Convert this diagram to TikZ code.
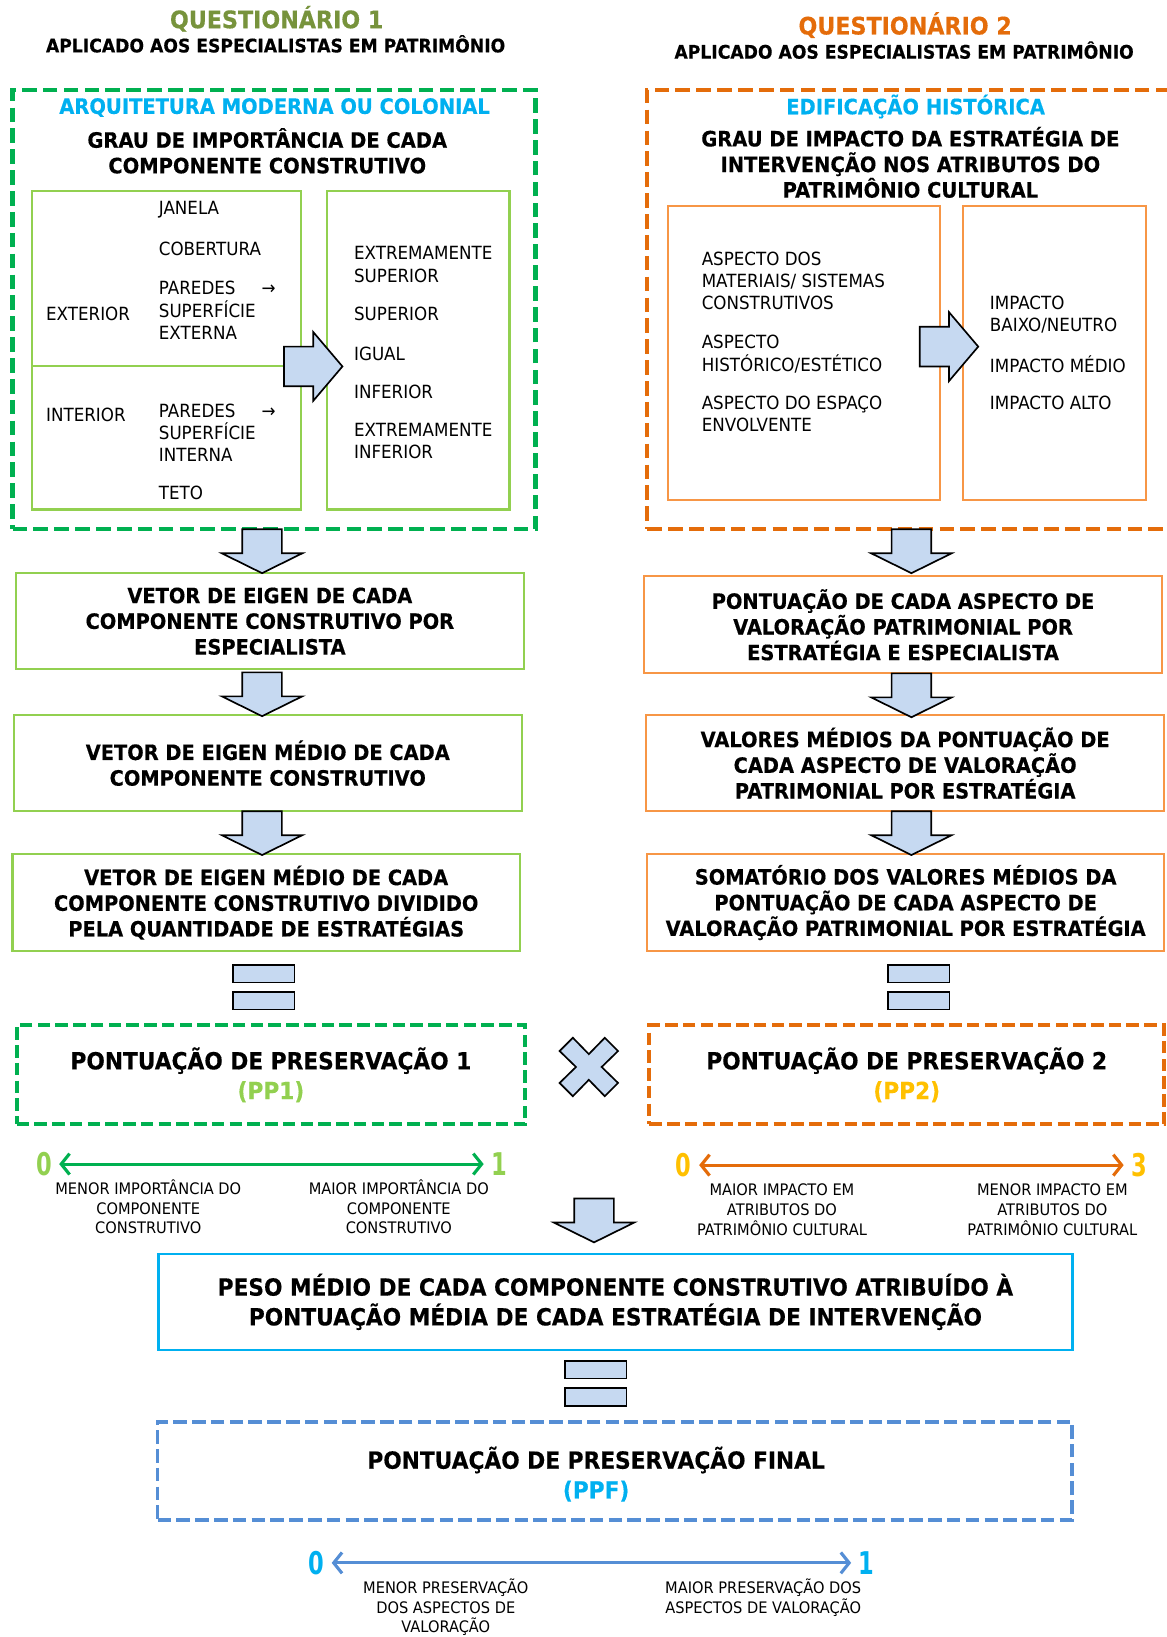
\documentclass[tikz,border=0pt]{standalone}
\usepackage{fontspec}
\setmainfont{DejaVu Sans}[FakeStretch=0.92, BoldFeatures={FakeBold=0.4}]
\newfontfamily\numfont{DejaVu Sans Condensed}[FakeStretch=0.8]
\usetikzlibrary{arrows.meta,calc}

\definecolor{olive}{HTML}{77933C}
\definecolor{orgdark}{HTML}{E46C0A}
\definecolor{cyanhead}{HTML}{00B0F0}
\definecolor{greendash}{HTML}{00B050}
\definecolor{lightgreen}{HTML}{92D050}
\definecolor{orgline}{HTML}{F79646}
\definecolor{gold}{HTML}{FFC000}
\definecolor{bluedash}{HTML}{558ED5}
\definecolor{arrowfill}{HTML}{C6D9F1}

\tikzset{
  qtitle/.style={font=\bfseries\fontsize{23.1}{25}\selectfont, inner sep=0pt},
  qsub/.style={font=\bfseries\fontsize{17.9}{20}\selectfont, inner sep=0pt},
  headtext/.style={font=\bfseries\fontsize{20.3}{24.5}\selectfont, align=center, inner sep=0pt},
  bodytext/.style={font=\bfseries\fontsize{20.2}{24.6}\selectfont, align=center, inner sep=0pt},
  bigtext/.style={font=\bfseries\fontsize{22.6}{28.5}\selectfont, align=center, inner sep=0pt},
  itemtext/.style={font=\fontsize{17.4}{21.5}\selectfont, align=left, anchor=west, inner sep=0pt},
  scalelabel/.style={font=\fontsize{15.2}{19}\selectfont, align=center, inner sep=0pt},
  scalenum/.style={font=\numfont\bfseries\fontsize{30}{30}\selectfont, inner sep=0pt},
  outerdash/.style={draw, line width=4pt, dash pattern=on 14pt off 6pt, inner sep=0pt},
  resultdash/.style={draw, line width=4pt, dash pattern=on 12pt off 5pt, inner sep=0pt},
  greenbox/.style={draw=lightgreen, line width=2pt, inner sep=0pt},
  orangebox/.style={draw=orgline, line width=2pt, inner sep=0pt},
  bluebox/.style={draw=cyanhead, line width=2.5pt, inner sep=0pt},
  blockarrow/.style={fill=arrowfill, draw=black, line width=1.6pt, line join=miter},
  scalearrow/.style={line width=3pt,
    {Straight Barb[length=8pt,width=20pt]}-{Straight Barb[length=8pt,width=20pt]},
    shorten <=7pt, shorten >=7pt},
  downarrow/.pic={\path[blockarrow] (-19,0) -- (19,0) -- (19,23) -- (38.5,23)
    -- (0,42) -- (-38.5,23) -- (-19,23) -- cycle;},
  rightarrow/.pic={\path[blockarrow] (0,-19) -- (28,-19) -- (28,-33) -- (56,0)
    -- (28,33) -- (28,19) -- (0,19) -- cycle;},
  equalsign/.pic={\path[blockarrow] (-29.5,-21.5) rectangle (29.5,-4.5);
    \path[blockarrow] (-29.5,4.5) rectangle (29.5,21.5);},
  timessign/.pic={\path[blockarrow] (0,-12.3) -- (15.3,-28) -- (28,-15.3) -- (12.3,0)
    -- (28,15.3) -- (15.3,28) -- (0,12.3) -- (-15.3,28) -- (-28,15.3) -- (-12.3,0)
    -- (-28,-15.3) -- (-15.3,-28) -- cycle;}
}

\begin{document}
\begin{tikzpicture}[x=1pt,y=-1pt]
\useasboundingbox (0,0) rectangle (1117,1568);

% ---------- Questionnaire headings ----------
\node[qtitle, text=olive] (q1title) at (265,18) {QUESTIONÁRIO 1};
\node[qsub] (q1sub) at (264,42) {APLICADO AOS ESPECIALISTAS EM PATRIMÔNIO};
\node[qtitle, text=orgdark] (q2title) at (867,24) {QUESTIONÁRIO 2};
\node[qsub] (q2sub) at (866,48) {APLICADO AOS ESPECIALISTAS EM PATRIMÔNIO};

% ---------- Questionnaire 1 frame ----------
\node[outerdash, draw=greendash, minimum width=501, minimum height=421] (q1box) at (262.5,296.5) {};
\node[headtext, text=cyanhead] (q1type) at (263,103) {ARQUITETURA MODERNA OU COLONIAL};
\node[headtext] (q1q) at (256,144.5) {GRAU DE IMPORTÂNCIA DE CADA\\COMPONENTE CONSTRUTIVO};

\node[greenbox, minimum width=257, minimum height=305] (comp) at (159.5,335.5) {};
\node[greenbox, minimum width=175, minimum height=305] (scale1) at (400.5,335.5) {};
\draw[lightgreen, line width=2pt] (comp.west |- 0,351) -- (comp.east |- 0,351);

\node[itemtext] (ext) at (44,301) {EXTERIOR};
\node[itemtext] (int) at (44,397) {INTERIOR};
\node[itemtext] (jan) at (152,201) {JANELA};
\node[itemtext] (cob) at (152,238) {COBERTURA};
\node[itemtext] (pext) at (152,297.5) {PAREDES\hspace{25pt}→\\SUPERFÍCIE\\EXTERNA};
\node[itemtext] (pint) at (152,414.5) {PAREDES\hspace{25pt}→\\SUPERFÍCIE\\INTERNA};
\node[itemtext] (teto) at (152,472) {TETO};

\node[itemtext] (esup) at (339,253.5) {EXTREMAMENTE\\SUPERIOR};
\node[itemtext] (sup) at (339,301) {SUPERIOR};
\node[itemtext] (igu) at (339,339) {IGUAL};
\node[itemtext] (inf) at (339,375) {INFERIOR};
\node[itemtext] (einf) at (339,422.5) {EXTREMAMENTE\\INFERIOR};

\pic at (272,351) {rightarrow};

% ---------- Questionnaire 2 frame ----------
\node[outerdash, draw=orgdark, minimum width=500, minimum height=421] (q2box) at (870,296.5) {};
\node[headtext, text=cyanhead] (q2type) at (877,102) {EDIFICAÇÃO HISTÓRICA};
\node[headtext] (q2q) at (872,155.5) {GRAU DE IMPACTO DA ESTRATÉGIA DE\\INTERVENÇÃO NOS ATRIBUTOS DO\\PATRIMÔNIO CULTURAL};

\node[orangebox, minimum width=260, minimum height=282] (asp) at (770,338) {};
\node[orangebox, minimum width=176, minimum height=282] (scale2) at (1010,338) {};

\node[itemtext] (a1) at (672,269) {ASPECTO DOS\\MATERIAIS/ SISTEMAS\\CONSTRUTIVOS};
\node[itemtext] (a2) at (672,339) {ASPECTO\\HISTÓRICO/ESTÉTICO};
\node[itemtext] (a3) at (672,396.5) {ASPECTO DO ESPAÇO\\ENVOLVENTE};
\node[itemtext] (i1) at (948,301.5) {IMPACTO\\BAIXO/NEUTRO};
\node[itemtext] (i2) at (948,349) {IMPACTO MÉDIO};
\node[itemtext] (i3) at (948,386) {IMPACTO ALTO};

\pic at (881,332) {rightarrow};

% ---------- Left processing chain ----------
\node[greenbox, minimum width=487, minimum height=92, bodytext] (l1) at (258.5,595)
  {VETOR DE EIGEN DE CADA\\COMPONENTE CONSTRUTIVO POR\\ESPECIALISTA};
\node[greenbox, minimum width=487, minimum height=92, bodytext] (l2) at (256.5,731)
  {VETOR DE EIGEN MÉDIO DE CADA\\COMPONENTE CONSTRUTIVO};
\node[greenbox, minimum width=486, minimum height=93, bodytext] (l3) at (255,864.5)
  {VETOR DE EIGEN MÉDIO DE CADA\\COMPONENTE CONSTRUTIVO DIVIDIDO\\PELA QUANTIDADE DE ESTRATÉGIAS};

\pic at (251,507) {downarrow};
\pic at (251,644) {downarrow};
\pic at (251,777) {downarrow};

% ---------- Right processing chain ----------
\node[orangebox, minimum width=496, minimum height=93, bodytext] (r1) at (865,598.5)
  {PONTUAÇÃO DE CADA ASPECTO DE\\VALORAÇÃO PATRIMONIAL POR\\ESTRATÉGIA E ESPECIALISTA};
\node[orangebox, minimum width=496, minimum height=92, bodytext] (r2) at (867,731)
  {VALORES MÉDIOS DA PONTUAÇÃO DE\\CADA ASPECTO DE VALORAÇÃO\\PATRIMONIAL POR ESTRATÉGIA};
\node[orangebox, minimum width=495, minimum height=93, bodytext] (r3) at (867.5,864.5)
  {SOMATÓRIO DOS VALORES MÉDIOS DA\\PONTUAÇÃO DE CADA ASPECTO DE\\VALORAÇÃO PATRIMONIAL POR ESTRATÉGIA};

\pic at (873,507) {downarrow};
\pic at (873,645) {downarrow};
\pic at (873,777) {downarrow};

% ---------- Equal signs ----------
\pic at (252.5,945.5) {equalsign};
\pic at (880,945.5) {equalsign};

% ---------- Preservation scores ----------
\node[resultdash, draw=greendash, minimum width=487, minimum height=95, bigtext] (pp1) at (259.5,1029.5)
  {PONTUAÇÃO DE PRESERVAÇÃO 1\\\textcolor{lightgreen}{(PP1)}};
\node[resultdash, draw=orgdark, minimum width=493, minimum height=95, bigtext] (pp2) at (868.5,1029.5)
  {PONTUAÇÃO DE PRESERVAÇÃO 2\\\textcolor{gold}{(PP2)}};
\pic at (564,1022) {timessign};

% ---------- Scale of PP1 ----------
\node[scalenum, text=lightgreen] (s1lo) at (42,1115) {0};
\node[scalenum, text=lightgreen] (s1hi) at (478,1115) {1};
\draw[scalearrow, greendash] (s1lo.east) -- (s1hi.west);
\node[scalelabel] (s1lotxt) at (142,1156) {MENOR IMPORTÂNCIA DO\\COMPONENTE\\CONSTRUTIVO};
\node[scalelabel] (s1hitxt) at (382,1156) {MAIOR IMPORTÂNCIA DO\\COMPONENTE\\CONSTRUTIVO};

% ---------- Scale of PP2 ----------
\node[scalenum, text=gold] (s2lo) at (655,1116) {0};
\node[scalenum, text=gold] (s2hi) at (1091,1116) {3};
\draw[scalearrow, orgdark] (s2lo.east) -- (s2hi.west);
\node[scalelabel] (s2lotxt) at (749,1158.5) {MAIOR IMPACTO EM\\ATRIBUTOS DO\\PATRIMÔNIO CULTURAL};
\node[scalelabel] (s2hitxt) at (1008,1158.5) {MENOR IMPACTO EM\\ATRIBUTOS DO\\PATRIMÔNIO CULTURAL};

% ---------- Combined weight ----------
\pic at (569,1148) {downarrow};
\node[bluebox, minimum width=875, minimum height=92, bigtext] (peso) at (589.5,1247)
  {PESO MÉDIO DE CADA COMPONENTE CONSTRUTIVO ATRIBUÍDO À\\PONTUAÇÃO MÉDIA DE CADA ESTRATÉGIA DE INTERVENÇÃO};
\pic at (570.5,1325) {equalsign};

% ---------- Final score ----------
\node[draw=bluedash, line width=3.5pt, dash pattern=on 13pt off 5pt, minimum width=876, minimum height=94] (ppf) at (589,1409) {};
\node[bigtext] (ppftxt) at (571,1412) {PONTUAÇÃO DE PRESERVAÇÃO FINAL\\\textcolor{cyanhead}{(PPF)}};

\node[scalenum, text=cyanhead] (s3lo) at (303,1497) {0};
\node[scalenum, text=cyanhead] (s3hi) at (830,1497) {1};
\draw[scalearrow, bluedash] (s3lo.east) -- (s3hi.west);
\node[scalelabel, font=\fontsize{15.2}{18.5}\selectfont] (s3lotxt) at (427,1539.5) {MENOR PRESERVAÇÃO\\DOS ASPECTOS DE\\VALORAÇÃO};
\node[scalelabel, font=\fontsize{15.2}{18.5}\selectfont] (s3hitxt) at (731,1530.5) {MAIOR PRESERVAÇÃO DOS\\ASPECTOS DE VALORAÇÃO};
\end{tikzpicture}
\end{document}
